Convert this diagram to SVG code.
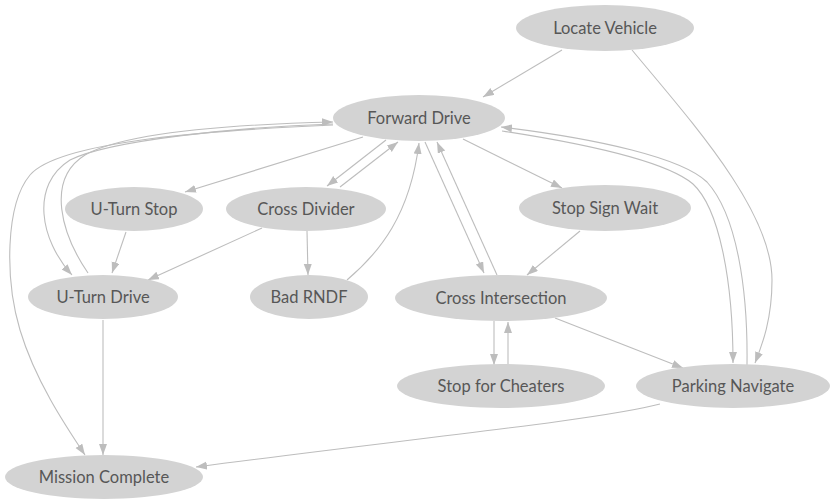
<svg xmlns="http://www.w3.org/2000/svg" width="831" height="500" viewBox="0 0 831 500">
<style>
.n ellipse{fill:#d3d3d3;stroke:none}
.n text{font-family:Lato,"Noto Sans",sans-serif;font-size:16.5px;fill:#575757;text-anchor:middle}
.e path{fill:none;stroke:#bdbdbd;stroke-width:1.1;marker-end:url(#ah)}
</style>
<defs>
<marker id="ah" markerUnits="userSpaceOnUse" markerWidth="12" markerHeight="9" refX="11" refY="4" orient="auto">
<path d="M0,0 L11,4 L0,8 z" fill="#bdbdbd"/>
</marker>
</defs>
<rect width="831" height="500" fill="#fff"/>
<g class="e" id="edges">
<path d="M562,50 L483,97"/>
<path d="M632,50 C690,120 772,210 772,280 C772,320 762,345 755,363"/>
<path d="M363,137 L185,192"/>
<path d="M386,140 L327,186"/>
<path d="M340,187 L398,142"/>
<path d="M347,280 C380,252 410,215 419,143"/>
<path d="M425,142 L484,273"/>
<path d="M497,275 L437,142"/>
<path d="M463,139 L562,188"/>
<path d="M580,231 L527,275"/>
<path d="M494,321 L494,365"/>
<path d="M508,365 L508,322"/>
<path d="M555,318 L683,368"/>
<path d="M502,131 C600,146 668,163 693,184 C719,208 733,280 733,363"/>
<path d="M747,365 C748,290 737,215 707,182 C682,158 600,139 501,127"/>
<path d="M88,273 C62,235 45,180 85,155 C130,130 250,124 333,122"/>
<path d="M333,124 C240,127 110,140 70,160 C30,185 40,240 72,275"/>
<path d="M333,125 C220,130 60,140 30,175 C5,205 5,280 20,330 C35,380 65,425 85,455"/>
<path d="M126,232 L112,273"/>
<path d="M262,228 L148,280"/>
<path d="M307,231 L308,275"/>
<path d="M103,320 L103,455"/>
<path d="M660,404 C600,420 400,440 196,467"/>
</g>
<g class="n" id="locate_vehicle"><ellipse cx="605" cy="28" rx="89" ry="23"/><text x="605" y="33.8">Locate Vehicle</text></g>
<g class="n" id="forward_drive"><ellipse cx="419" cy="118" rx="86" ry="23"/><text x="419" y="123.8">Forward Drive</text></g>
<g class="n" id="uturn_stop"><ellipse cx="134" cy="209" rx="69" ry="22"/><text x="134" y="214.8">U-Turn Stop</text></g>
<g class="n" id="cross_divider"><ellipse cx="306" cy="209" rx="80" ry="22"/><text x="306" y="214.8">Cross Divider</text></g>
<g class="n" id="stop_sign_wait"><ellipse cx="605" cy="208" rx="86" ry="23"/><text x="605" y="213.8">Stop Sign Wait</text></g>
<g class="n" id="uturn_drive"><ellipse cx="103" cy="297" rx="75" ry="22"/><text x="103" y="302.8">U-Turn Drive</text></g>
<g class="n" id="bad_rndf"><ellipse cx="309" cy="297" rx="59" ry="22"/><text x="309" y="302.8">Bad RNDF</text></g>
<g class="n" id="cross_intersection"><ellipse cx="501" cy="298" rx="106" ry="23"/><text x="501" y="303.8">Cross Intersection</text></g>
<g class="n" id="stop_for_cheaters"><ellipse cx="501" cy="386" rx="104" ry="22"/><text x="501" y="391.8">Stop for Cheaters</text></g>
<g class="n" id="parking_navigate"><ellipse cx="733" cy="386" rx="97" ry="22"/><text x="733" y="391.8">Parking Navigate</text></g>
<g class="n" id="mission_complete"><ellipse cx="104" cy="477" rx="99" ry="22"/><text x="104" y="482.8">Mission Complete</text></g>
</svg>
